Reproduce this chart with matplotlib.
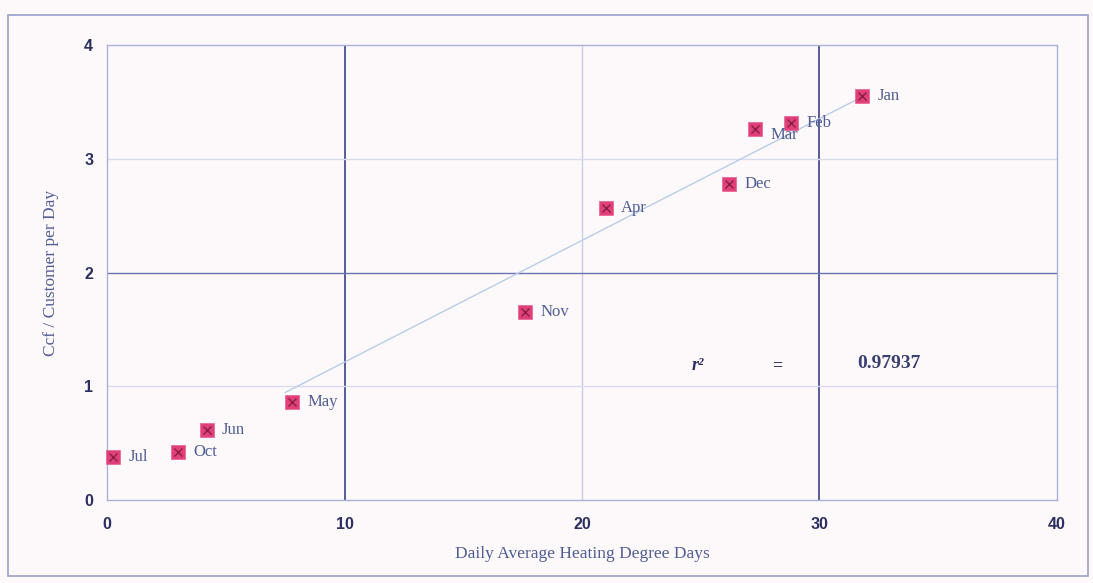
import numpy as np
import matplotlib
matplotlib.use("Agg")
import matplotlib.pyplot as plt
from matplotlib.patches import Rectangle

months = ["Jul", "Oct", "Jun", "May", "Nov", "Apr", "Dec", "Mar", "Feb", "Jan"]
hdd = [0.25, 3.0, 4.2, 7.8, 17.6, 21.0, 26.2, 27.3, 28.8, 31.8]
ccf = [0.38, 0.42, 0.62, 0.86, 1.65, 2.57, 2.78, 3.26, 3.31, 3.55]
fit_range = [7.5, 31.8]
r2_text = "0.97937"
xticks = [0, 10, 20, 30, 40]
yticks = [0, 1, 2, 3, 4]

bg = "#fdf9fb"
navy = "#2c3060"
label_col = "#4f5d95"
marker_face = "#e0407a"
marker_x = "#8a1f3f"

fig = plt.figure(figsize=(10.93, 5.83), dpi=100, facecolor=bg)
ax = fig.add_axes([0.098, 0.142, 0.869, 0.781], facecolor=bg)

fig.patches.append(Rectangle((0.007, 0.012), 0.988, 0.963, transform=fig.transFigure,
                             fill=False, edgecolor="#9aa0c8", linewidth=1.2))

ax.set_xlim(0, 40)
ax.set_ylim(0, 4)

# grid lines
for xv, c, lw in [(10, "#3a4088", 1.2), (20, "#c8cde8", 1.0), (30, "#3a4088", 1.2)]:
    ax.axvline(xv, color=c, lw=lw, zorder=1)
for yv, c, lw in [(1, "#d8dcee", 1.0), (2, "#6a72b0", 1.0), (3, "#d8dcee", 1.0)]:
    ax.axhline(yv, color=c, lw=lw, zorder=1)

# regression line
coef = np.polyfit(hdd, ccf, 1)
lx = np.array(fit_range)
ax.plot(lx, np.polyval(coef, lx), color="#b8cde6", lw=1.0, zorder=2)

ax.plot(hdd, ccf, linestyle="none", marker="s", markersize=10, clip_on=False,
        markerfacecolor=marker_face, markeredgecolor="#e86090", markeredgewidth=0.5, zorder=4)
ax.plot(hdd, ccf, linestyle="none", marker="x", markersize=5.5, clip_on=False,
        markeredgecolor=marker_x, markeredgewidth=1.0, zorder=5)

for m, x, y in zip(months, hdd, ccf):
    dy = -4 if m == "Mar" else 0
    ax.annotate(m, (x, y), xytext=(11, dy), textcoords="offset points",
                va="center", ha="left", fontsize=12, color=label_col,
                family="Liberation Serif", zorder=6)

ax.text(24.6, 1.18, "r²", fontsize=13, style="italic", fontweight="bold",
        color=navy, family="Liberation Serif", ha="left", va="center")
ax.text(28.0, 1.18, "=", fontsize=13, color=navy, fontweight="bold",
        family="Liberation Serif", ha="left", va="center")
ax.text(31.6, 1.20, r2_text, fontsize=14, color="#3a4070", fontweight="bold",
        family="Liberation Serif", ha="left", va="center")

ax.set_xticks(xticks)
ax.set_yticks(yticks)
ax.tick_params(length=0, labelsize=11.5, labelcolor=navy)
for lab in ax.get_xticklabels() + ax.get_yticklabels():
    lab.set_fontweight("bold")
    lab.set_family("Liberation Sans")
ax.tick_params(axis="y", pad=10)
ax.tick_params(axis="x", pad=12)

for s in ax.spines.values():
    s.set_color("#aab0d8")
    s.set_linewidth(1.0)

ax.set_xlabel("Daily Average Heating Degree Days", family="Liberation Serif",
              fontsize=12.5, color=label_col, labelpad=10)
ax.set_ylabel("Ccf / Customer per Day", family="Liberation Serif",
              fontsize=12.5, color=label_col, labelpad=18)

fig.savefig("out.png", dpi=100, facecolor=bg)
